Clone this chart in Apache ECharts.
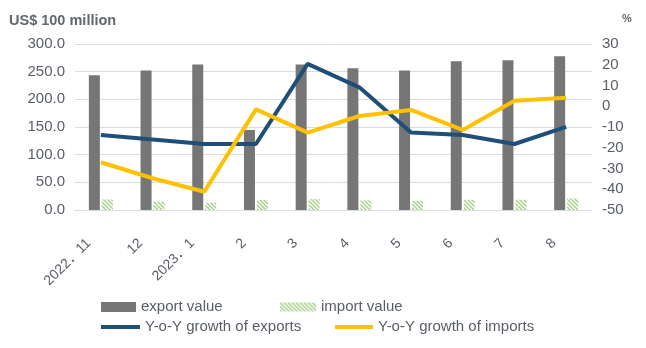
<!DOCTYPE html>
<html>
<head>
<meta charset="utf-8">
<script src="https://cdn.jsdelivr.net/npm/echarts@6/dist/echarts.min.js"></script>
<style>
html,body{margin:0;padding:0;background:#fff;}
#chart{width:646px;height:348px;}
</style>
</head>
<body>
<div id="chart"></div>
<script>
const categories = ['2022．11', '12', '2023．1', '2', '3', '4', '5', '6', '7', '8'];
const exportValue = [243.5, 252, 263, 144.6, 263, 256, 252, 269, 270.6, 278];
const importValue = [19, 15, 13, 18, 19.5, 17.5, 16.5, 18.5, 18.5, 21];
const exportGrowth = [-13.9, -16, -18.2, -18.2, 20.4, 9.1, -12.7, -13.9, -18.2, -9.9];
const importGrowth = [-27, -34.7, -41.2, -1.5, -12.7, -4.7, -1.8, -11.4, 2.7, 4.1];
const leftTicks = { min: 0, max: 300, interval: 50 };
const rightTicks = { min: -50, max: 30, interval: 10 };

const FONT = '"Liberation Sans", Arial, "Noto Sans CJK SC", sans-serif';
const TXT = '#595e66';

// hatch pattern for imports
const pc = document.createElement('canvas');
pc.width = 4; pc.height = 4;
const g = pc.getContext('2d');
g.fillStyle = '#ffffff';
g.fillRect(0, 0, 4, 4);
g.strokeStyle = '#a3cf86';
g.lineWidth = 1.4;
g.beginPath();
g.moveTo(-1, -1); g.lineTo(5, 5);
g.moveTo(-1, 3); g.lineTo(1, 5);
g.moveTo(3, -1); g.lineTo(5, 1);
g.stroke();
const hatch = { image: pc, repeat: 'repeat' };

const chart = echarts.init(document.getElementById('chart'), null, { renderer: 'canvas' });

const legendBase = {
  orient: 'horizontal',
  padding: 0,
  itemGap: 0,
  textStyle: { fontFamily: FONT, fontSize: 15, color: TXT, lineHeight: 18 },
  selectedMode: false
};

chart.setOption({
  animation: false,
  backgroundColor: '#ffffff',
  textStyle: { fontFamily: FONT },
  title: [
    { text: 'US$ 100 million', left: 9, top: 14, padding: 0,
      textStyle: { fontFamily: FONT, fontSize: 14.5, fontWeight: 'bold', color: '#62666d' } },
    { text: '%', left: 622, top: 13, padding: 0,
      textStyle: { fontFamily: FONT, fontSize: 11, fontWeight: 'bold', color: '#62666d' } }
  ],
  legend: [
    Object.assign({}, legendBase, { left: 101, top: 298, itemWidth: 35, itemHeight: 10,
      data: [{ name: 'export value', icon: 'rect' }] }),
    Object.assign({}, legendBase, { left: 280, top: 298, itemWidth: 36, itemHeight: 9,
      data: [{ name: 'import value', icon: 'rect' }] }),
    Object.assign({}, legendBase, { left: 101, top: 318, itemWidth: 39, itemHeight: 4,
      data: [{ name: 'Y-o-Y growth of exports', icon: 'rect' }] }),
    Object.assign({}, legendBase, { left: 335, top: 318, itemWidth: 38, itemHeight: 4,
      data: [{ name: 'Y-o-Y growth of imports', icon: 'rect' }] })
  ],
  grid: { left: 75, right: 54, top: 44, bottom: 138, containLabel: false },
  xAxis: {
    type: 'category',
    data: categories,
    boundaryGap: true,
    axisLine: { show: true, lineStyle: { color: '#d9dde3', width: 1 } },
    axisTick: { show: false },
    axisLabel: {
      rotate: 45, interval: 0, margin: 19,
      fontFamily: FONT, fontSize: 14, color: TXT,
      padding: [0, 17, 0, 0]
    }
  },
  yAxis: [
    {
      type: 'value', min: leftTicks.min, max: leftTicks.max, interval: leftTicks.interval,
      axisLine: { show: false }, axisTick: { show: false },
      splitLine: { show: true, lineStyle: { color: '#d9dde3', width: 1 } },
      axisLabel: { margin: 10, fontFamily: FONT, fontSize: 15, color: TXT,
        formatter: v => v.toFixed(1) }
    },
    {
      type: 'value', min: rightTicks.min, max: rightTicks.max, interval: rightTicks.interval,
      axisLine: { show: false }, axisTick: { show: false },
      splitLine: { show: false },
      axisLabel: { margin: 10, fontFamily: FONT, fontSize: 15, color: TXT }
    }
  ],
  series: [
    { name: 'export value', type: 'bar', yAxisIndex: 0, data: exportValue,
      barWidth: 11, barGap: '18%', itemStyle: { color: '#767676' } },
    { name: 'import value', type: 'bar', yAxisIndex: 0, data: importValue,
      barWidth: 11, itemStyle: { color: hatch } },
    { name: 'Y-o-Y growth of exports', type: 'line', yAxisIndex: 1, data: exportGrowth,
      showSymbol: false, symbol: 'none', lineStyle: { color: '#1f4e79', width: 4 },
      itemStyle: { color: '#1f4e79' } },
    { name: 'Y-o-Y growth of imports', type: 'line', yAxisIndex: 1, data: importGrowth,
      showSymbol: false, symbol: 'none', lineStyle: { color: '#ffc000', width: 4 },
      itemStyle: { color: '#ffc000' } }
  ]
});
</script>
</body>
</html>
